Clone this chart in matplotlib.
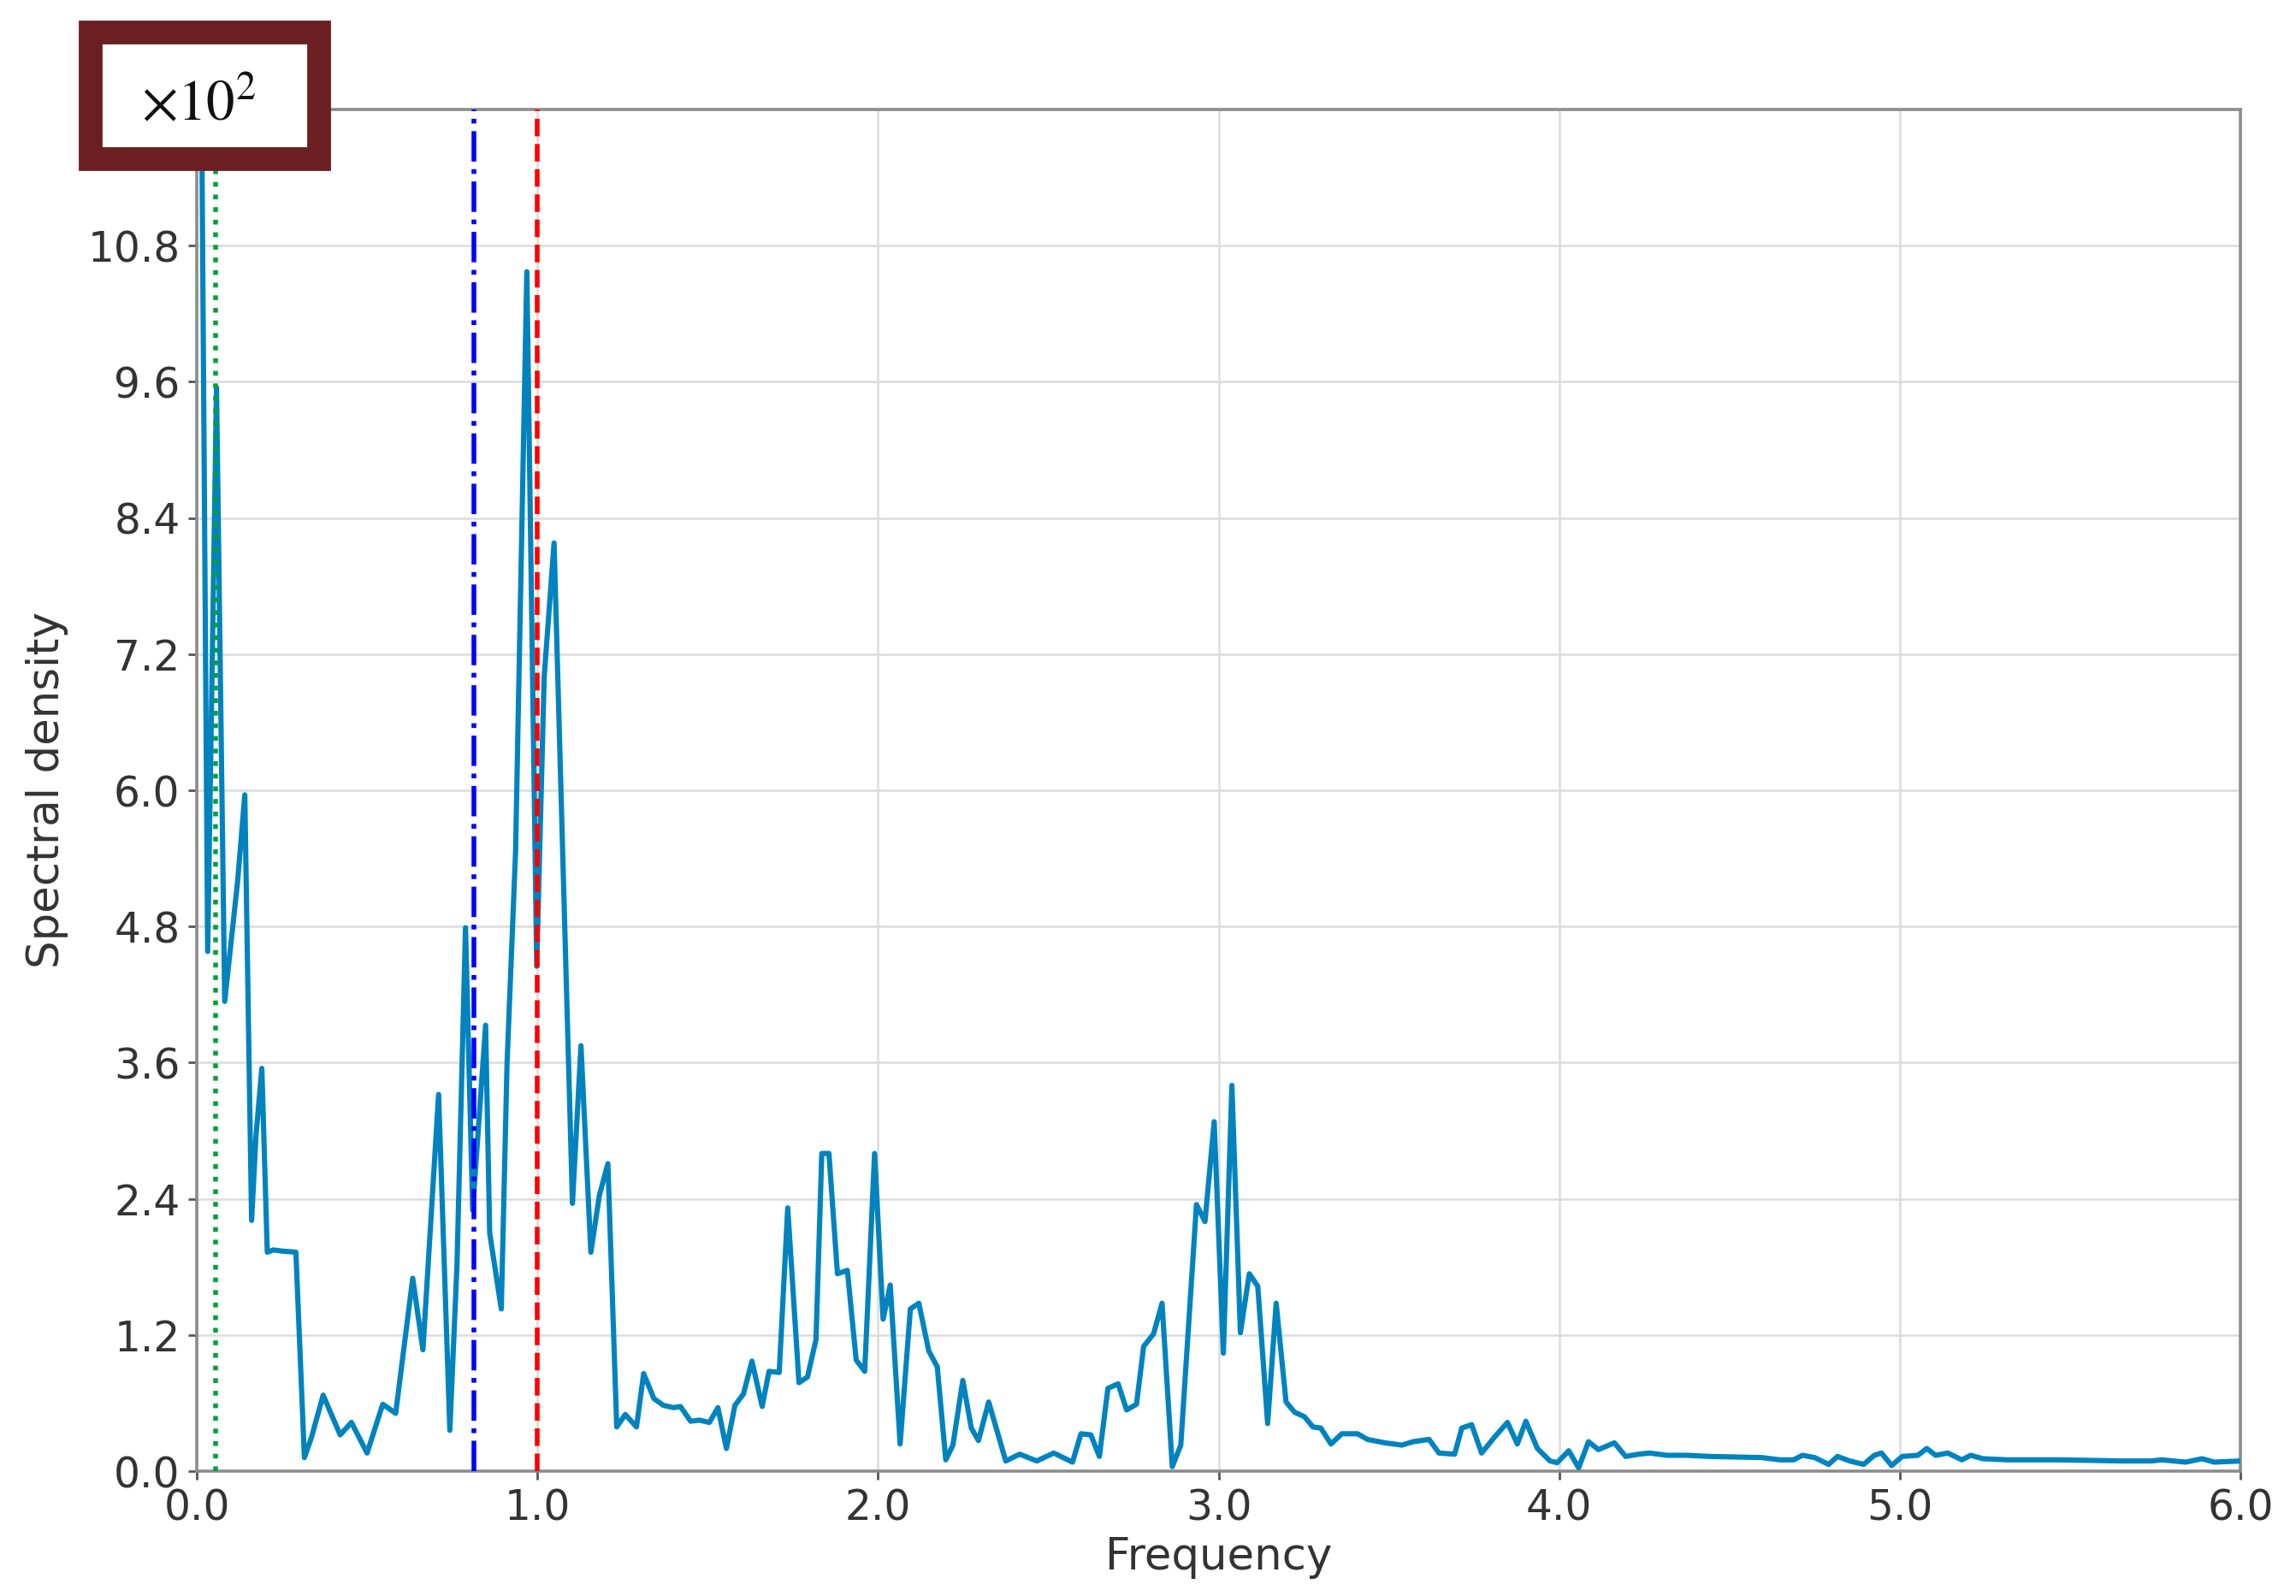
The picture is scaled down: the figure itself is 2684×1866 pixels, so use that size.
"""
Spectral density vs frequency with marker lines and a x10^2 scale box
"""
import matplotlib
matplotlib.use('Agg')
import matplotlib.pyplot as plt
from matplotlib.patches import Rectangle

# Frequency / spectral density (in units of 10^2)
freq = [0.0, 0.032, 0.058, 0.082, 0.12, 0.141, 0.161, 0.174, 0.191, 0.207,
        0.225, 0.25, 0.291, 0.316, 0.337, 0.371, 0.421, 0.454, 0.5, 0.546,
        0.584, 0.634, 0.664, 0.71, 0.743, 0.764, 0.789, 0.81, 0.848, 0.86,
        0.894, 0.911, 0.936, 0.969, 0.998, 1.02, 1.049, 1.103, 1.128, 1.157,
        1.182, 1.207, 1.233, 1.258, 1.291, 1.312, 1.342, 1.37, 1.40, 1.42,
        1.45, 1.475, 1.505, 1.53, 1.555, 1.58, 1.605, 1.63, 1.66, 1.68,
        1.71, 1.735, 1.768, 1.793, 1.818, 1.835, 1.856, 1.881, 1.91, 1.936,
        1.961, 1.99, 2.015, 2.036, 2.065, 2.095, 2.12, 2.149, 2.174, 2.199,
        2.22, 2.249, 2.274, 2.295, 2.325, 2.375, 2.416, 2.466, 2.516, 2.571,
        2.596, 2.625, 2.65, 2.675, 2.705, 2.73, 2.759, 2.78, 2.809, 2.834,
        2.864, 2.889, 2.935, 2.96, 2.987, 3.014, 3.039, 3.064, 3.09, 3.115,
        3.144, 3.169, 3.198, 3.223, 3.252, 3.277, 3.30, 3.33, 3.362, 3.408,
        3.437, 3.488, 3.538, 3.571, 3.618, 3.647, 3.693, 3.714, 3.743, 3.772,
        3.81, 3.848, 3.877, 3.902, 3.936, 3.973, 3.994, 4.028, 4.057, 4.086,
        4.115, 4.162, 4.195, 4.233, 4.266, 4.316, 4.375, 4.442, 4.596, 4.647,
        4.688, 4.714, 4.75, 4.791, 4.817, 4.853, 4.894, 4.925, 4.946, 4.976,
        5.007, 5.053, 5.079, 5.105, 5.141, 5.182, 5.208, 5.244, 5.316, 5.47,
        5.656, 5.738, 5.769, 5.84, 5.887, 5.923, 6.0]
density = [18.0, 4.58, 9.55, 4.14, 5.2, 5.96, 2.21, 2.96, 3.55, 1.93,
           1.95, 1.94, 1.93, 0.12, 0.3, 0.67, 0.32, 0.43, 0.16, 0.59,
           0.51, 1.70, 1.07, 3.32, 0.36, 1.82, 4.79, 2.3, 3.93, 2.1,
           1.43, 3.6, 5.46, 10.57, 4.45, 7.0, 8.18, 2.36, 3.75, 1.93,
           2.43, 2.71, 0.39, 0.5, 0.39, 0.86, 0.64, 0.58, 0.56, 0.57,
           0.44, 0.45, 0.43, 0.56, 0.2, 0.58, 0.68, 0.97, 0.57, 0.88,
           0.87, 2.32, 0.78, 0.83, 1.16, 2.8, 2.8, 1.74, 1.77, 0.98,
           0.88, 2.8, 1.34, 1.64, 0.24, 1.43, 1.48, 1.06, 0.92, 0.1,
           0.23, 0.8, 0.38, 0.27, 0.61, 0.09, 0.15, 0.09, 0.16, 0.08,
           0.33, 0.32, 0.13, 0.73, 0.77, 0.54, 0.59, 1.1, 1.21, 1.48,
           0.04, 0.23, 2.35, 2.2, 3.08, 1.04, 3.40, 1.22, 1.74, 1.63,
           0.42, 1.48, 0.61, 0.52, 0.48, 0.39, 0.38, 0.24, 0.33, 0.33,
           0.28, 0.25, 0.23, 0.26, 0.28, 0.16, 0.15, 0.38, 0.41, 0.16,
           0.30, 0.43, 0.24, 0.44, 0.20, 0.09, 0.075, 0.18, 0.03, 0.26,
           0.19, 0.25, 0.13, 0.15, 0.16, 0.14, 0.14, 0.13, 0.12, 0.10,
           0.10, 0.14, 0.12, 0.06, 0.13, 0.09, 0.06, 0.14, 0.16, 0.05,
           0.13, 0.14, 0.20, 0.14, 0.16, 0.10, 0.14, 0.11, 0.10, 0.10,
           0.09, 0.09, 0.10, 0.08, 0.11, 0.08, 0.09]

# Marker lines
green_x = 0.055
blue_x = 0.8125
red_x = 1.0

x_ticks = [0.0, 1.0, 2.0, 3.0, 4.0, 5.0, 6.0]
y_ticks = [0.0, 1.2, 2.4, 3.6, 4.8, 6.0, 7.2, 8.4, 9.6, 10.8]

plt.rcParams['font.family'] = 'DejaVu Sans'
fig = plt.figure(figsize=(13.42, 9.33), dpi=200)
ax = fig.add_axes([0.0857, 0.0782, 0.8901, 0.8532])

ax.plot(freq, density, color='#0083bf', linewidth=2.2, zorder=3)
ax.axvline(green_x, color='#00a03c', linestyle=':', linewidth=2.0, zorder=4)
ax.axvline(blue_x, color='#0000ff', linestyle='-.', linewidth=2.0, zorder=4)
ax.axvline(red_x, color='#ff0000', linestyle='--', linewidth=2.0, zorder=4)

ax.set_xlim(0, 6)
ax.set_ylim(0, 12)
ax.set_xticks(x_ticks)
ax.set_xticklabels(['%.1f' % v for v in x_ticks])
ax.set_yticks(y_ticks)
ax.set_yticklabels(['%.1f' % v for v in y_ticks])
ax.tick_params(labelsize=17.5, colors='#555555', labelcolor='#333333',
               length=3.5, width=1.0)
ax.grid(True, color='#dcdcdc', linewidth=0.9)
ax.set_axisbelow(True)
for s in ax.spines.values():
    s.set_color('#8c8c8c')
    s.set_linewidth(1.3)

ax.set_xlabel('Frequency', fontsize=18.5, color='#333333', labelpad=3)
ax.set_ylabel('Spectral density', fontsize=18.5, color='#333333', labelpad=8)

# Scale box in the top left corner
box = Rectangle((0.0395, 0.9003), 0.0995, 0.0795, transform=fig.transFigure,
                facecolor='white', edgecolor='#6b1f20', linewidth=10, zorder=10)
fig.add_artist(box)
fig.text(0.0865, 0.9345, r'$\times10^2$', fontsize=24, ha='center',
         va='center', color='#111111', zorder=11,
         math_fontfamily='stix')

fig.savefig('out.png', dpi=200, facecolor='white')
